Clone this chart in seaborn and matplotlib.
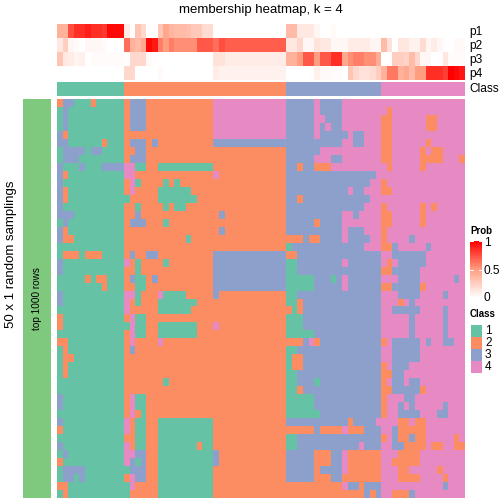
import numpy as np
import matplotlib
matplotlib.use("Agg")
import matplotlib.pyplot as plt
from matplotlib.colors import ListedColormap, LinearSegmentedColormap
from matplotlib.patches import Rectangle
import seaborn as sns

plt.rcParams['font.family'] = ['Liberation Sans', 'DejaVu Sans']

class_palette = ["#66C2A5", "#FC8D62", "#8DA0CB", "#E78AC3"]
class_names = ["1", "2", "3", "4"]
prob_colors = ["#FFFFFF", "#FF9E81", "#FF0000"]
annotation_names = ["p1", "p2", "p3", "p4", "Class"]

p1 = [.4,.4,.75,.85,.85,.9,.85,.85,.82,.97,
      .97,.97,.1,0,.3,.2,0,0,.3,.45,
      .38,.35,.35,.33,.28,.28,.18,.18,0,0,
      0,0,0,0,0,0,0,0,0,0,
      0,.35,.35,.12,.12,.12,.05,0,0,.03,
      0,0,0,0,0,0,0,0,0,0,
      0,0,0,0,0,0,0,0,0,0,
      0,0,0]
p2 = [.12,.25,.05,.02,0,.04,.04,.04,.03,0,
      0,0,.65,.4,.35,.45,.97,.92,.6,.5,
      .6,.55,.55,.55,.55,.72,.72,.72,.65,.75,
      .7,.7,.7,.7,.7,.7,.7,.7,.7,.7,
      .7,.12,.12,.2,.04,.04,.15,.12,.12,.04,
      .04,.04,.1,.1,.1,.1,.05,.05,.35,.15,
      0,.13,.13,.07,.07,.18,.05,.1,.04,.01,
      0,.03,.03]
p3 = [.3,.12,.1,.06,.08,0,.02,.02,.02,.02,
      .02,.02,.01,.2,.2,.2,.03,.01,0,0,
      0,0,0,0,0,0,0,0,.15,.15,
      .1,.1,.1,.1,.1,.1,.1,.1,.1,.1,
      .1,.4,.4,.5,.72,.72,.5,.72,.72,.85,
      .85,.45,.55,.6,.6,.55,.55,.42,0,0,
      .25,.25,.22,.35,.2,.04,.04,0,.01,.13,
      .02,.02,.02]
p4 = [0,0,0,0,0,0,0,0,0,0,
      0,0,.2,.2,0,0,0,0,.03,0,
      0,0,0,0,0,0,0,0,.1,.07,
      .07,.07,.07,.07,.07,.07,.07,.07,.07,.07,
      .07,0,0,0,0,.01,.08,.03,.03,.02,
      .02,0,.3,.2,.15,.15,.18,.25,.4,.62,
      .62,.4,.45,.35,.5,.5,.85,.85,.85,.8,
      1,.97,.93]

column_class = "1x12 2x29 3x17 4x15"

# one run-length line per sampling: <class>x<count>
membership_rows = [
 "2x1 3x2 1x3 2x1 1x5 2x1 3x3 2x12 4x13 3x5 4x1 3x4 4x22",
 "1x1 3x1 1x10 2x1 3x3 2x12 4x13 3x5 4x1 3x4 4x8 2x1 4x13",
 "1x1 3x1 1x10 2x1 3x3 2x12 4x13 3x5 4x2 3x3 4x7 2x2 4x6 2x2 4x5",
 "1x1 3x1 1x10 2x1 3x3 2x12 4x13 3x5 4x1 3x1 4x1 3x2 4x7 2x2 4x6 2x2 4x5",
 "3x1 2x1 1x10 2x16 4x13 3x5 4x1 3x5 4x1 3x2 4x3 2x2 4x13",
 "3x2 1x6 2x1 1x3 2x1 3x3 2x1 3x1 2x10 3x23 4x2 3x2 4x3 2x2 4x6 2x1 4x6",
 "1x1 3x4 1x1 3x2 1x4 2x2 3x2 2x25 3x6 4x11 2x2 4x5 2x1 4x1 2x2 4x4",
 "1x1 3x3 1x8 2x1 3x3 2x25 3x5 4x3 3x2 4x7 2x2 4x5 2x4 4x3 2x1",
 "3x1 1x3 3x1 1x3 3x4 4x2 1x2 2x2 1x10 2x13 3x2 2x1 3x2 2x3 4x10 2x1 4x5 2x1 4x7",
 "3x1 2x1 1x10 4x2 2x14 4x1 2x12 3x16 4x16",
 "3x1 1x11 2x1 4x1 1x1 2x4 1x1 2x1 1x1 2x19 3x15 4x2 2x1 4x14",
 "3x1 2x1 1x10 2x1 4x1 2x4 1x6 2x17 3x11 4x1 3x2 4x3 2x2 4x13",
 "3x1 2x1 1x11 2x5 1x7 2x16 3x2 2x1 3x12 4x17",
 "3x1 1x11 2x2 1x1 2x4 1x1 2x1 1x2 2x18 3x14 4x3 2x1 4x6 2x1 4x1 2x1 4x5",
 "3x3 1x9 2x2 3x1 2x14 3x1 2x11 3x10 4x2 3x1 4x4 2x2 4x5 2x1 4x7",
 "1x1 3x1 1x10 2x1 3x3 2x3 1x1 2x21 3x5 2x1 3x4 4x7 2x2 4x5 2x1 4x7",
 "3x1 2x1 1x10 2x17 3x1 2x11 3x10 4x1 3x3 4x3 2x1 4x14",
 "3x1 2x2 1x9 2x11 1x1 2x20 3x1 2x2 3x4 4x1 3x4 4x2 2x1 4x4 3x1 4x9",
 "1x12 2x29 1x1 3x13 4x3 2x2 3x1 4x5 3x1 4x6",
 "1x1 2x3 1x1 2x3 1x4 2x1 3x1 2x2 3x2 2x10 3x13 2x2 3x15 4x2 3x6 4x7",
 "3x1 1x11 4x1 2x1 1x1 2x4 1x1 2x8 3x13 1x2 3x8 4x1 3x6 4x1 2x1 4x1 3x5 4x7",
 "3x1 1x11 2x2 1x1 2x13 3x13 1x2 3x15 2x2 3x5 4x8",
 "1x5 2x1 1x1 2x2 1x3 2x1 3x1 1x2 2x1 3x1 2x10 3x13 1x5 3x3 1x1 3x1 4x1 3x6 4x3 3x4 4x6 3x1 4x1",
 "1x8 2x1 1x3 2x2 1x2 2x12 3x13 1x5 3x5 4x1 3x6 2x2 3x5 2x1 4x7",
 "3x1 1x11 4x2 1x1 2x3 4x1 1x4 2x5 3x1 2x12 1x2 3x15 4x3 3x4 4x4 3x1 4x3",
 "3x1 1x11 4x1 2x1 1x1 2x3 1x7 2x16 1x2 2x1 3x14 4x3 2x1 4x1 3x1 4x9",
 "1x12 4x1 2x5 1x6 2x18 1x1 2x1 3x14 4x2 3x5 4x4 3x1 4x3",
 "2x1 1x11 2x1 4x1 1x2 2x25 1x3 3x14 4x5 3x1 4x5 3x1 4x3",
 "2x1 1x12 4x1 1x2 2x2 1x7 2x3 4x1 2x12 1x3 3x14 4x5 3x1 4x5 3x1 4x3",
 "1x12 2x1 4x1 1x2 2x2 1x7 2x16 1x5 3x12 4x5 3x1 4x5 3x1 4x3",
 "2x2 1x10 2x1 4x1 2x4 4x1 2x25 3x1 4x1 2x1 3x11 2x1 4x1 3x5 4x1 3x1 4x2 3x2 4x2",
 "1x1 2x1 1x10 2x1 3x1 2x27 1x2 3x15 4x2 3x5 4x8",
 "1x1 2x2 1x9 2x29 1x1 2x2 3x14 4x2 3x5 4x8",
 "1x1 2x1 1x10 2x29 1x1 2x2 3x14 2x1 4x1 3x3 4x10",
 "1x1 2x1 1x10 2x29 1x2 3x15 2x2 3x2 4x11",
 "1x12 2x7 1x1 2x21 1x2 3x3 1x1 3x11 2x1 4x1 3x2 4x1 3x2 4x8",
 "1x12 2x29 1x2 2x1 3x14 2x2 3x5 2x1 4x7",
 "3x1 1x11 2x1 4x1 1x2 2x25 1x5 3x12 2x1 4x3 3x2 4x9",
 "3x1 1x11 2x1 4x1 1x2 2x25 1x5 3x12 2x1 4x2 3x1 4x1 3x1 4x5 3x1 4x3",
 "1x12 2x1 4x1 2x1 1x1 2x25 1x6 3x11 2x1 4x2 3x4 4x3 3x2 4x3",
 "3x1 1x11 4x1 2x1 1x2 2x2 1x10 2x13 3x11 2x1 3x4 4x4 2x2 4x1 2x2 4x7",
 "2x1 1x11 4x1 2x1 1x2 2x2 1x10 2x18 3x1 2x4 4x1 2x3 3x3 4x2 3x1 2x5 4x7",
 "1x12 2x2 1x2 2x2 1x10 2x13 1x2 3x15 2x1 4x1 3x1 2x2 3x1 2x2 4x5 2x1 4x1",
 "3x1 1x11 4x1 2x1 1x2 2x2 1x7 2x1 1x2 2x13 1x2 3x11 4x1 3x3 4x2 3x2 2x4 4x1 2x2 4x2 2x2",
 "1x1 3x1 1x10 4x2 3x2 2x2 1x10 3x1 2x12 3x5 2x3 3x2 4x1 2x6 4x3 2x4 4x8",
 "2x1 1x11 4x1 3x1 1x1 3x1 2x2 1x10 3x1 2x12 3x5 2x3 3x2 4x1 2x6 4x2 2x5 4x8",
 "1x1 3x4 1x8 3x3 2x2 1x10 2x13 3x5 2x1 3x4 4x1 2x6 4x3 2x2 4x5 2x1 4x4",
 "1x1 3x2 1x1 3x1 1x7 2x1 4x1 3x2 2x2 1x10 2x13 3x5 2x3 3x2 2x7 4x3 2x4 4x4 2x1 4x3",
 "2x2 1x11 4x1 2x4 1x10 2x23 4x1 3x2 2x1 3x3 4x11 3x1 4x3",
 "1x1 2x1 1x11 2x5 1x10 2x27 3x1 2x1 3x1 4x2 2x3 3x1 4x9",
]


def expand(line):
    out = []
    for run in line.split():
        value, count = run.split("x")
        out.extend([int(value)] * int(count))
    return out


W, H = 504, 504
fig = plt.figure(figsize=(W / 100, H / 100), dpi=100)


def axes_px(x0, y0, x1, y1):
    return fig.add_axes([x0 / W, 1 - y1 / H, (x1 - x0) / W, (y1 - y0) / H])


L, R = 57, 465
class_cmap = ListedColormap(class_palette)
prob_cmap = LinearSegmentedColormap.from_list("prob", prob_colors)
plain = dict(cbar=False, xticklabels=False, yticklabels=False)

# probability annotation
ax_p = axes_px(L, 24, R, 80)
sns.heatmap(np.array([p1, p2, p3, p4]), ax=ax_p, cmap=prob_cmap, vmin=0, vmax=1, **plain)

# class annotation
ax_c = axes_px(L, 82, R, 96)
sns.heatmap(np.array([expand(column_class)]), ax=ax_c, cmap=class_cmap, vmin=0.5, vmax=4.5, **plain)

# membership matrix
ax_m = axes_px(L, 99, R, 498)
sns.heatmap(np.array([expand(r) for r in membership_rows]), ax=ax_m, cmap=class_cmap,
            vmin=0.5, vmax=4.5, **plain)

# left row annotation
ax_l = axes_px(23, 99, 51, 498)
sns.heatmap(np.array([[0]]), ax=ax_l, cmap=ListedColormap(["#7FC97F"]), **plain)
for a in (ax_p, ax_c, ax_m, ax_l):
    a.set_xlabel("")
    a.set_ylabel("")

ax_l.text(0.5, 0.5, "top 1000 rows", rotation=90, ha="center", va="center",
          transform=ax_l.transAxes, fontsize=7.2, color="black")


def t(x, y, s, **kw):
    kw.setdefault("va", "center")
    kw.setdefault("ha", "left")
    fig.text(x / W, 1 - (y + 1) / H, s, **kw)


t(261, 9.5, "membership heatmap, k = 4", ha="center", fontsize=9.5)
t(11, 253, "50 x 1 random samplings", rotation=90, ha="center", fontsize=9.5)
for name, y in zip(annotation_names, [31, 45, 59, 73, 88]):
    t(469, y, name, fontsize=8.6)

# probability legend
t(470, 230, "Prob", fontsize=7, fontweight="bold")
ax_b = axes_px(470, 241, 482, 298)
sns.heatmap(np.linspace(1, 0, 100).reshape(-1, 1), ax=ax_b, cmap=prob_cmap, vmin=0, vmax=1, **plain)
ax_b.set_xlabel("")
ax_b.set_ylabel("")
for y in [0, 50]:
    ax_b.plot([0, .22], [y + .6, y + .6], color="white", lw=.7)
    ax_b.plot([.78, 1], [y + .6, y + .6], color="white", lw=.7)
for y, s in [(242, "1"), (269.5, "0.5"), (297, "0")]:
    t(484, y, s, fontsize=8.6)

# class legend
t(470, 313, "Class", fontsize=7, fontweight="bold")
for i, (c, name) in enumerate(zip(class_palette, class_names)):
    y = 325 + i * 12
    fig.add_artist(Rectangle((470.5 / W, 1 - (y + 11.5) / H), 11 / W, 11.5 / H,
                             transform=fig.transFigure, facecolor=c, edgecolor="none"))
    t(485, y + 5, name, fontsize=8.6)

fig.savefig("out.png", dpi=100)
